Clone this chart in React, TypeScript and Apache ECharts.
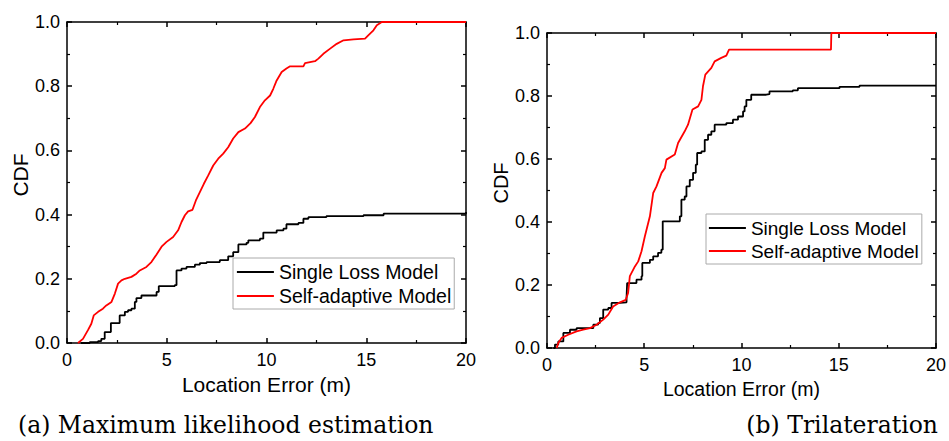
import React, { useEffect, useRef } from "react";
import * as echarts from "echarts";

const SERIES_NAMES = ["Single Loss Model", "Self-adaptive Model"];
const X_TICKS = [0, 5, 10, 15, 20];
const Y_TICKS = [0, 0.2, 0.4, 0.6, 0.8, 1.0];
const CAPTIONS = ["(a) Maximum likelihood estimation", "(b) Trilateration"];

// (a) Maximum likelihood estimation
const mleSingle: number[][] = [
  [0.7, 0], [1.14, 0.003], [1.56, 0.006], [1.72, 0.013], [1.85, 0.013], [1.89, 0.034], [2.14, 0.034],
  [2.2, 0.062], [2.56, 0.062], [2.64, 0.086], [2.9, 0.097], [3.06, 0.102], [3.23, 0.107], [3.4, 0.128],
  [3.48, 0.14], [3.73, 0.148], [4.23, 0.148], [4.49, 0.159], [4.6, 0.177], [5.4, 0.18], [5.49, 0.226],
  [5.74, 0.232], [5.99, 0.237], [6.41, 0.244], [6.66, 0.249], [7.0, 0.252], [7.66, 0.258], [8.08, 0.27],
  [8.33, 0.283], [8.59, 0.307], [9.0, 0.312], [9.09, 0.32], [9.67, 0.325], [9.84, 0.344], [10.51, 0.351],
  [10.85, 0.356], [11.0, 0.37], [11.6, 0.374], [11.85, 0.387], [12.1, 0.392], [13.0, 0.395],
  [14.86, 0.398], [15.87, 0.403], [19.9, 0.403], [20, 0.408],
];
const mleAdaptive: number[][] = [
  [0.55, 0], [0.8, 0.013], [1.05, 0.04], [1.22, 0.06], [1.34, 0.086], [1.56, 0.097], [1.8, 0.107],
  [1.97, 0.117], [2.23, 0.128], [2.4, 0.154], [2.56, 0.185], [2.73, 0.195], [2.9, 0.2], [3.23, 0.206],
  [3.48, 0.216], [3.65, 0.226], [3.98, 0.237], [4.23, 0.252], [4.49, 0.276], [4.74, 0.3], [4.99, 0.315],
  [5.32, 0.33], [5.57, 0.351], [5.74, 0.377], [5.91, 0.398], [6.07, 0.41], [6.29, 0.415], [6.46, 0.444],
  [6.66, 0.47], [6.86, 0.496], [7.08, 0.522], [7.33, 0.553], [7.58, 0.574], [7.83, 0.59], [8.08, 0.61],
  [8.33, 0.637], [8.59, 0.657], [8.92, 0.668], [9.2, 0.685], [9.42, 0.704], [9.67, 0.735], [9.92, 0.756],
  [10.18, 0.771], [10.34, 0.792], [10.51, 0.818], [10.76, 0.844], [11.0, 0.855], [11.18, 0.862],
  [11.85, 0.862], [11.93, 0.872], [12.43, 0.878], [12.6, 0.886], [12.85, 0.901], [13.19, 0.917],
  [13.52, 0.932], [13.86, 0.943], [14.36, 0.946], [14.94, 0.948], [15.1, 0.958], [15.36, 0.974],
  [15.53, 0.99], [15.78, 1.0], [20, 1.0],
];

// (b) Trilateration
const triSingle: number[][] = [
  [0.33, 0], [0.41, 0.011], [0.58, 0.021], [0.84, 0.048], [1.09, 0.048], [1.18, 0.058], [1.52, 0.063],
  [2.21, 0.063], [2.38, 0.074], [2.63, 0.079], [2.72, 0.095], [2.89, 0.122], [3.15, 0.127], [3.32, 0.143],
  [3.75, 0.145], [4.09, 0.159], [4.12, 0.206], [4.6, 0.217], [4.86, 0.228], [4.9, 0.27], [5.29, 0.28],
  [5.46, 0.291], [5.71, 0.302], [5.88, 0.312], [5.95, 0.402], [6.66, 0.402], [6.83, 0.418], [6.91, 0.471],
  [7.08, 0.481], [7.17, 0.513], [7.34, 0.534], [7.51, 0.556], [7.65, 0.582], [7.72, 0.619], [7.94, 0.624],
  [8.11, 0.661], [8.28, 0.677], [8.45, 0.688], [8.62, 0.709], [9.22, 0.714], [9.56, 0.725], [9.82, 0.735],
  [10.08, 0.751], [10.16, 0.767], [10.25, 0.788], [10.5, 0.804], [11.27, 0.806], [11.44, 0.815],
  [12.64, 0.818], [12.9, 0.825], [15.04, 0.829], [16.07, 0.833], [20, 0.835],
];
const triAdaptive: number[][] = [
  [0.5, 0], [0.58, 0.016], [0.75, 0.032], [1.09, 0.042], [1.52, 0.053], [1.86, 0.058], [2.21, 0.063],
  [2.55, 0.074], [2.89, 0.09], [3.15, 0.106], [3.4, 0.132], [3.75, 0.145], [4.05, 0.153], [4.17, 0.175],
  [4.26, 0.228], [4.52, 0.259], [4.69, 0.275], [4.86, 0.307], [5.03, 0.354], [5.29, 0.418], [5.46, 0.492],
  [5.63, 0.513], [5.89, 0.556], [6.06, 0.571], [6.14, 0.598], [6.57, 0.614], [6.74, 0.651], [7.08, 0.688],
  [7.25, 0.709], [7.48, 0.757], [7.77, 0.767], [7.94, 0.788], [8.02, 0.831], [8.14, 0.868], [8.45, 0.889],
  [8.62, 0.91], [8.96, 0.921], [9.22, 0.928], [9.36, 0.947], [14.6, 0.947], [14.62, 1.0], [20, 1.0],
];

const SANS = "'Liberation Sans', Arial, sans-serif";
const SERIF = "'DejaVu Serif', serif";

function xAxes(gridIndex: number, nameSize: number, nameGap: number) {
  const base = {
    gridIndex,
    type: "value",
    min: X_TICKS[0],
    max: X_TICKS[X_TICKS.length - 1],
    interval: X_TICKS[1] - X_TICKS[0],
    splitLine: { show: false },
    axisLine: { show: true, onZero: false, lineStyle: { color: "#000", width: 1.5 } },
    axisTick: { show: true, inside: true, length: 5, lineStyle: { color: "#000", width: 1.5 } },
    minorTick: { show: true, splitNumber: 2, length: 3, lineStyle: { color: "#000", width: 1.2 } },
  };
  return [
    {
      ...base,
      position: "bottom",
      name: "Location Error (m)",
      nameLocation: "middle",
      nameGap,
      nameTextStyle: { fontFamily: SANS, fontSize: nameSize, color: "#000" },
      axisLabel: { fontFamily: SANS, fontSize: 18, color: "#000", margin: 8 },
    },
    { ...base, position: "top", axisLabel: { show: false } },
  ];
}

function yAxes(gridIndex: number, nameSize: number, nameGap: number) {
  const base = {
    gridIndex,
    type: "value",
    min: Y_TICKS[0],
    max: Y_TICKS[Y_TICKS.length - 1],
    interval: Y_TICKS[1] - Y_TICKS[0],
    splitLine: { show: false },
    axisLine: { show: true, onZero: false, lineStyle: { color: "#000", width: 1.5 } },
    axisTick: { show: true, inside: true, length: 5, lineStyle: { color: "#000", width: 1.5 } },
    minorTick: { show: true, splitNumber: 2, length: 3, lineStyle: { color: "#000", width: 1.2 } },
  };
  return [
    {
      ...base,
      position: "left",
      name: "CDF",
      nameLocation: "middle",
      nameGap,
      nameTextStyle: {
        fontFamily: SANS,
        fontSize: nameSize,
        color: "#000",
        padding: [0, 0, 0, 15],
      },
      axisLabel: {
        fontFamily: SANS,
        fontSize: 18,
        color: "#000",
        margin: 7,
        formatter: (v: number) => v.toFixed(1),
      },
    },
    { ...base, position: "right", axisLabel: { show: false } },
  ];
}

function lineSeries(name: string, data: number[][], axisIdx: number, color: string, step: boolean) {
  return {
    name,
    type: "line",
    xAxisIndex: axisIdx,
    yAxisIndex: axisIdx,
    data,
    step: step ? "end" : false,
    symbol: "none",
    lineStyle: { color, width: 1.8 },
    itemStyle: { color },
    z: 3,
  };
}

export default function App() {
  const ref = useRef<HTMLDivElement>(null);
  useEffect(() => {
    if (!ref.current) return;
    const chart = echarts.init(ref.current, null, { renderer: "svg" });
    const xs = [...xAxes(0, 21, 28), ...xAxes(1, 19.5, 25)];
    const ys = [...yAxes(0, 21, 36), ...yAxes(1, 20, 36)];
    const legendBase = {
      orient: "vertical",
      itemWidth: 37,
      itemHeight: 14,
      itemGap: 4,
      borderColor: "#aaa",
      borderWidth: 1,
      backgroundColor: "#fff",
      data: SERIES_NAMES,
      selectedMode: false,
      itemStyle: { opacity: 0 },
      lineStyle: { width: 1.8 },
    };
    chart.setOption({
      animation: false,
      backgroundColor: "#fff",
      grid: [
        { left: 67, top: 22, width: 399, height: 321 },
        { left: 547, top: 33, width: 390, height: 315 },
      ],
      xAxis: xs,
      yAxis: ys,
      legend: [
        {
          ...legendBase,
          left: 233,
          top: 258,
          padding: [4, 3, 3, 3],
          textStyle: { fontFamily: SANS, fontSize: 19.5, lineHeight: 20, color: "#000" },
        },
        {
          ...legendBase,
          left: 706,
          top: 214,
          padding: [4, 3, 3, 2],
          itemGap: 3,
          textStyle: { fontFamily: SANS, fontSize: 19, lineHeight: 20, color: "#000" },
        },
      ],
      series: [
        lineSeries(SERIES_NAMES[0], mleSingle, 0, "#000000", true),
        lineSeries(SERIES_NAMES[1], mleAdaptive, 0, "#ff0000", false),
        lineSeries(SERIES_NAMES[0], triSingle, 2, "#000000", true),
        lineSeries(SERIES_NAMES[1], triAdaptive, 2, "#ff0000", false),
      ],
      graphic: [
        {
          type: "text",
          left: 18,
          top: 413,
          style: { text: CAPTIONS[0], font: `23.5px ${SERIF}`, fill: "#000" },
        },
        {
          type: "text",
          right: 11,
          top: 413,
          style: { text: CAPTIONS[1], font: `23.5px ${SERIF}`, fill: "#000" },
        },
      ],
    });
    return () => chart.dispose();
  }, []);
  return (
    <div
      ref={ref}
      style={{ position: "fixed", left: 0, top: 0, width: 949, height: 441 }}
    />
  );
}
